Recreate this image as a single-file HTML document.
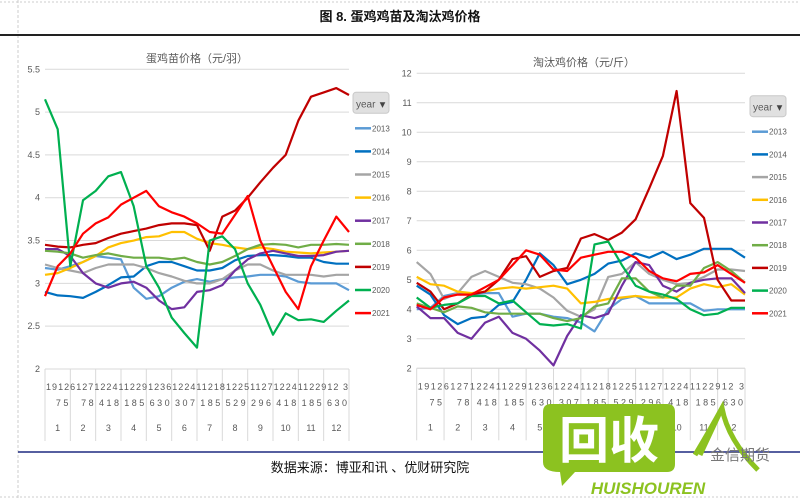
<!DOCTYPE html>
<html><head><meta charset="utf-8">
<style>
html,body{margin:0;padding:0;background:#fff;}
body{width:800px;height:500px;overflow:hidden;position:relative;font-family:"Liberation Sans","Noto Sans CJK SC",sans-serif;}
svg{position:absolute;left:0;top:0;}
</style></head><body>
<svg id="chart" width="800" height="500" viewBox="0 0 800 500">
  <rect x="0" y="0" width="800" height="500" fill="#fff"/>
  <line x1="0" y1="2" x2="800" y2="2" stroke="#ccc" stroke-dasharray="2,2"/>
  <line x1="18" y1="0" x2="18" y2="500" stroke="#ccc" stroke-dasharray="3,2"/>
  <line x1="0" y1="497" x2="800" y2="497" stroke="#ccc" stroke-dasharray="2,2"/>
  <text x="400" y="21" text-anchor="middle" font-size="13" font-weight="bold" fill="#111">图 8. 蛋鸡鸡苗及淘汰鸡价格</text>
  <line x1="0" y1="35" x2="800" y2="35" stroke="#222" stroke-width="2"/>
  <line x1="18" y1="452" x2="800" y2="452" stroke="#1f2a80" stroke-width="1.5"/>
  <text x="370" y="472" text-anchor="middle" font-size="13" fill="#111">数据来源：博亚和讯 、优财研究院</text>
  <g id="left"></g>
  <g id="right"></g>
  <g>
    <path d="M551,404 H667 Q675,404 675,412 V464 Q675,472 667,472 H575 L562,486 L560,472 Q543,472 543,462 V412 Q543,404 551,404 Z" fill="#8cc220"/>
    <text x="609" y="458" text-anchor="middle" font-size="50" font-weight="bold" fill="#fff">回收</text>
    <path d="M695,455 Q710,430 722,408 Q728,440 758,470 M722,408 L700,455" stroke="#8cc220" stroke-width="5" fill="none"/>
    <text x="740" y="460" text-anchor="middle" font-size="15" fill="#777">金信期货</text>
    <text x="648" y="494" text-anchor="middle" font-size="17" font-weight="bold" font-style="italic" fill="#8cc220">HUISHOUREN</text>
  </g>
</svg>
<script>
const years = ["2013","2014","2015","2016","2017","2018","2019","2020","2021"];
const months = ["1","2","3","4","5","6","7","8","9","10","11","12"];
const dayRow1 = "1912612712241122912361224112181225112712241122912 3";
const dayRow2 = ["7 5","7 8","4 1 8","1 8 5","6 3 0","3 0 7","1 8 5","5 2 9","2 9 6","4 1 8","1 8 5","6 3 0"];
const leftTicks = [2,2.5,3,3.5,4,4.5,5,5.5];
const rightTicks = [2,3,4,5,6,7,8,9,10,11,12];
// 蛋鸡苗价格 (元/羽)
const egg2013 = [3.18,3.16,3.2,3.25,3.32,3.3,3.28,2.95,2.82,2.85,2.95,3.02,3.05,3.02,3.05,3.07,3.08,3.1,3.1,3.08,3.02,3.0,3.0,3.0,2.92];
const egg2014 = [2.9,2.86,2.85,2.83,2.9,2.98,3.07,3.08,3.2,3.25,3.25,3.2,3.15,3.15,3.18,3.27,3.32,3.33,3.33,3.32,3.3,3.3,3.25,3.23,3.23];
const egg2015 = [3.22,3.18,3.15,3.12,3.18,3.22,3.22,3.22,3.18,3.12,3.08,3.03,3.0,3.0,3.05,3.15,3.22,3.22,3.15,3.1,3.1,3.1,3.08,3.1,3.1];
const egg2016 = [3.1,3.12,3.18,3.25,3.32,3.42,3.47,3.5,3.54,3.55,3.6,3.6,3.52,3.47,3.45,3.42,3.4,3.42,3.4,3.37,3.36,3.35,3.36,3.37,3.38];
const egg2017 = [3.4,3.4,3.32,3.12,3.0,2.95,3.0,3.02,2.95,2.8,2.7,2.72,2.9,2.92,2.98,3.15,3.28,3.35,3.38,3.35,3.32,3.32,3.33,3.37,3.38];
const egg2018 = [3.38,3.37,3.35,3.3,3.33,3.35,3.32,3.3,3.3,3.3,3.28,3.3,3.25,3.22,3.25,3.32,3.4,3.45,3.46,3.45,3.42,3.45,3.45,3.46,3.45];
const egg2019 = [3.45,3.43,3.42,3.45,3.47,3.53,3.58,3.61,3.64,3.68,3.7,3.7,3.68,3.38,3.78,3.85,4.0,4.18,4.35,4.5,4.9,5.18,5.23,5.28,5.2];
const egg2020 = [5.15,4.8,3.2,3.97,4.08,4.25,4.3,3.9,3.2,2.95,2.6,2.42,2.25,3.5,3.55,3.4,3.0,2.75,2.4,2.65,2.57,2.58,2.55,2.68,2.8];
const egg2021 = [2.85,3.2,3.35,3.58,3.7,3.77,3.92,4.0,4.08,3.9,3.83,3.78,3.7,3.6,3.58,3.8,4.02,3.5,3.2,2.9,2.7,3.2,3.5,3.78,3.6];
// 淘汰鸡价格 (元/斤)
const cull2013 = [4.0,4.05,4.45,4.55,4.5,4.55,4.55,3.75,3.85,3.85,3.75,3.7,3.55,3.25,4.0,4.35,4.45,4.2,4.2,4.2,4.2,3.95,4.0,4.0,4.0];
const cull2014 = [4.8,4.5,3.8,3.5,3.7,3.75,4.15,4.25,5.0,5.9,5.5,4.85,5.0,5.2,5.55,5.65,5.9,5.75,5.95,5.7,5.85,6.05,6.05,6.05,5.75];
const cull2015 = [5.6,5.2,4.35,4.55,5.1,5.3,5.1,4.9,4.85,4.7,4.4,3.95,3.75,4.0,5.1,5.2,5.6,5.2,5.0,4.85,4.9,5.1,5.35,5.35,5.3];
const cull2016 = [5.1,4.85,4.8,4.6,4.55,4.6,4.7,4.75,4.7,4.75,4.8,4.7,4.2,4.25,4.35,4.4,4.45,4.4,4.4,4.4,4.7,4.85,4.75,4.85,4.5];
const cull2017 = [4.1,3.7,3.7,3.2,3.0,3.55,3.75,3.2,3.0,2.6,2.1,3.1,3.8,3.7,3.85,4.8,5.6,5.5,4.8,4.6,4.9,5.0,5.05,5.05,4.55];
const cull2018 = [4.2,4.05,3.9,4.1,4.05,3.9,3.85,3.85,3.85,3.85,3.7,3.6,3.7,4.1,4.2,5.05,5.05,4.6,4.4,4.8,4.8,5.4,5.6,5.3,4.9];
const cull2019 = [4.9,4.6,4.0,4.2,4.5,4.6,5.0,5.7,5.8,5.1,5.3,5.4,6.4,6.55,6.35,6.6,7.05,8.1,9.2,11.4,7.6,7.1,5.0,4.3,4.3];
const cull2020 = [4.4,4.05,4.15,4.2,4.45,4.45,4.2,4.3,3.9,3.5,3.45,3.5,3.35,6.2,6.3,5.5,4.8,4.6,4.5,4.35,4.0,3.8,3.85,4.05,4.05];
const cull2021 = [4.15,4.0,4.4,4.5,4.5,4.75,5.0,5.5,6.0,5.85,5.35,5.3,5.75,5.85,5.95,5.95,5.75,5.3,5.05,4.95,5.2,5.25,5.5,5.2,4.9];

const colors = {"2013":"#5B9BD5","2014":"#0070C0","2015":"#A5A5A5","2016":"#FFC000","2017":"#7030A0","2018":"#70AD47","2019":"#C00000","2020":"#00B050","2021":"#FF0000"};
const NS = "http://www.w3.org/2000/svg";
function mk(parent, tag, attrs, text){
  const e = document.createElementNS(NS, tag);
  for (const k in attrs) e.setAttribute(k, attrs[k]);
  if (text !== undefined) e.textContent = text;
  parent.appendChild(e);
  return e;
}
function drawChart(gid, cfg){
  const g = document.getElementById(gid);
  const xs = v => cfg.x0 + (cfg.x1 - cfg.x0) * v / (cfg.series[0].length - 1);
  const ys = v => cfg.yb - (v - cfg.ymin) / (cfg.ymax - cfg.ymin) * (cfg.yb - cfg.yt);
  const t = mk(g, "text", {x: cfg.titleX, y: cfg.titleY, "text-anchor": "middle", "font-size": 11, fill: "#595959"}, cfg.title);
  
  
  cfg.ticks.forEach(v => {
    const gl = mk(g, "line", {x1: cfg.x0, x2: cfg.x1, y1: ys(v), y2: ys(v), stroke: "#d9d9d9", "stroke-width": 1});
    
    
    const tl = mk(g, "text", {x: cfg.x0 - 5, y: ys(v) + 3, "text-anchor": "end", "font-size": 9, fill: "#595959"}, String(v));
    
    
  });
  const ax = mk(g, "line", {x1: cfg.x0, x2: cfg.x1, y1: cfg.yb, y2: cfg.yb, stroke: "#d9d9d9", "stroke-width": 1});
  
  
  const mw = (cfg.x1 - cfg.x0) / months.length;
  months.forEach((m, i) => {
    const a = cfg.x0 + mw * i, b = a + mw;
    const sep = mk(g, "line", {x1: a, x2: a, y1: cfg.yb, y2: cfg.yb + 72, stroke: "#d9d9d9", "stroke-width": 1});
    
    
    const d2 = mk(g, "text", {x: b - 2, y: cfg.yb + 37, "text-anchor": "end", "font-size": 9, fill: "#595959"}, dayRow2[i]);
    
    
    const ml = mk(g, "text", {x: (a + b) / 2, y: cfg.yb + 62, "text-anchor": "middle", "font-size": 9, fill: "#595959"}, m);
    
    
  });
  const endSep = mk(g, "line", {x1: cfg.x1, x2: cfg.x1, y1: cfg.yb, y2: cfg.yb + 72, stroke: "#d9d9d9", "stroke-width": 1});
  
  
  const r1 = mk(g, "text", {x: cfg.x0 + 1, y: cfg.yb + 21, "font-size": 9, fill: "#595959", textLength: cfg.x1 - cfg.x0 - 2, lengthAdjust: "spacing"}, dayRow1);
  
  
  cfg.series.forEach((arr, si) => {
    let d = "", pen = false;
    arr.forEach((v, i) => {
      if (v === null) { pen = false; return; }
      d += (pen ? "L" : "M") + xs(i).toFixed(1) + "," + ys(v).toFixed(1);
      pen = true;
    });
    const p = mk(g, "path", {d: d, fill: "none", stroke: colors[years[si]], "stroke-width": 2.2, "stroke-linejoin": "round"});
    
    
  });
  const btn = mk(g, "rect", {x: cfg.lx - 2, y: cfg.ly - 36, width: 36, height: 21, rx: 3, fill: "#e0e0e0", stroke: "#c8c8c8"});
  
  
  const bt = mk(g, "text", {x: cfg.lx + 1, y: cfg.ly - 21, "font-size": 10, fill: "#595959"}, "year");
  
  
  const bi = mk(g, "text", {x: cfg.lx + 25, y: cfg.ly - 21, "font-size": 10, "font-weight": "bold", fill: "#444"}, "▾");
  
  
  years.forEach((y, i) => {
    const yy = cfg.ly + i * cfg.lstep;
    const ll = mk(g, "line", {x1: cfg.lx, x2: cfg.lx + 16, y1: yy, y2: yy, stroke: colors[y], "stroke-width": 2.5});
    
    
    const lt = mk(g, "text", {x: cfg.lx + 17, y: yy + 3, "font-size": 8, fill: "#595959"}, y);
    
    
  });
}
drawChart("left", {x0: 45, x1: 349, yt: 69.3, yb: 369, ymin: 2, ymax: 5.5, ticks: leftTicks,
  title: "蛋鸡苗价格（元/羽）", titleX: 197, titleY: 62, lx: 355, ly: 128.3, lstep: 23.1,
  series: [egg2013, egg2014, egg2015, egg2016, egg2017, egg2018, egg2019, egg2020, egg2021]});
drawChart("right", {x0: 416.7, x1: 745, yt: 73.3, yb: 368.3, ymin: 2, ymax: 12, ticks: rightTicks,
  title: "淘汰鸡价格（元/斤）", titleX: 584, titleY: 66, lx: 752, ly: 131.7, lstep: 22.7,
  series: [cull2013, cull2014, cull2015, cull2016, cull2017, cull2018, cull2019, cull2020, cull2021]});
</script>
</body></html>
